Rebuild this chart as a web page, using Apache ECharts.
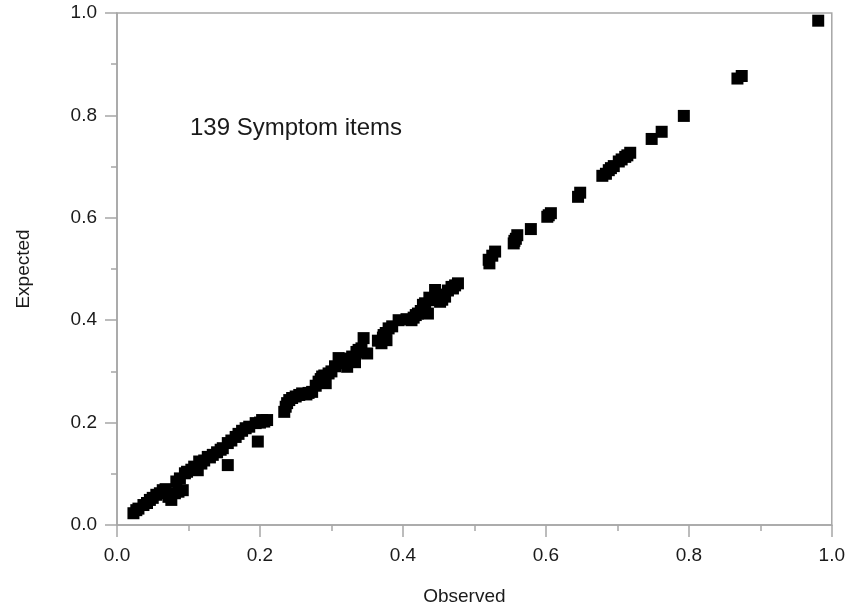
<!DOCTYPE html>
<html>
<head>
<meta charset="utf-8">
<script src="https://cdn.jsdelivr.net/npm/echarts@6/dist/echarts.min.js"></script>
<style>html,body{margin:0;padding:0;background:#fff}#c{width:848px;height:611px}</style>
</head>
<body>
<div id="c"></div>
<script>
const observed = [0.981,0.868,0.874,0.793,0.762,0.748,0.718,0.711,0.702,0.695,0.688,0.679,0.684,0.645,0.648,0.607,0.602,0.579,0.560,0.558,0.555,0.529,0.520,0.521,0.477,0.470,0.468,0.459,0.445,0.452,0.440,0.431,0.431,0.435,0.421,0.412,0.415,0.394,0.380,0.373,0.377,0.370,0.376,0.345,0.350,0.338,0.329,0.319,0.310,0.322,0.333,0.296,0.287,0.292,0.282,0.300,0.273,0.259,0.265,0.250,0.241,0.236,0.234,0.245,0.206,0.203,0.194,0.197,0.180,0.166,0.155,0.155,0.148,0.134,0.127,0.115,0.108,0.113,0.095,0.088,0.083,0.092,0.081,0.076,0.064,0.055,0.046,0.037,0.027,0.023,0.030,0.042,0.050,0.060,0.068,0.072,0.086,0.098,0.104,0.118,0.122,0.130,0.140,0.145,0.160,0.170,0.175,0.185,0.200,0.210,0.238,0.255,0.268,0.278,0.285,0.290,0.305,0.315,0.325,0.335,0.342,0.365,0.372,0.385,0.405,0.418,0.425,0.428,0.437,0.448,0.455,0.463,0.473,0.525,0.556,0.604,0.691,0.706,0.714];
const expected = [0.985,0.872,0.877,0.799,0.768,0.754,0.727,0.719,0.710,0.701,0.693,0.682,0.686,0.641,0.649,0.609,0.602,0.578,0.566,0.559,0.550,0.534,0.518,0.511,0.472,0.462,0.465,0.446,0.459,0.436,0.439,0.426,0.433,0.413,0.413,0.400,0.405,0.400,0.384,0.371,0.361,0.355,0.375,0.365,0.335,0.342,0.329,0.322,0.326,0.309,0.318,0.296,0.290,0.277,0.280,0.300,0.260,0.257,0.255,0.251,0.244,0.231,0.221,0.248,0.202,0.205,0.199,0.163,0.189,0.172,0.160,0.117,0.150,0.137,0.133,0.124,0.114,0.107,0.101,0.091,0.085,0.068,0.062,0.049,0.068,0.059,0.049,0.039,0.029,0.023,0.032,0.043,0.053,0.062,0.070,0.055,0.065,0.104,0.108,0.120,0.126,0.132,0.142,0.147,0.165,0.178,0.184,0.192,0.200,0.205,0.238,0.254,0.258,0.272,0.285,0.292,0.310,0.316,0.325,0.338,0.345,0.360,0.366,0.388,0.402,0.410,0.418,0.430,0.444,0.450,0.440,0.458,0.468,0.526,0.555,0.605,0.697,0.714,0.722];
const xName = 'Observed';
const yName = 'Expected';
const noteText = '139 Symptom items';

const pts = observed.map((v, i) => [v, expected[i]]);
const font = 'Liberation Sans, Arial, sans-serif';
const axisGray = '#a6a6a6';
const chart = echarts.init(document.getElementById('c'), null, {renderer: 'canvas'});
const axisCommon = {
  min: 0, max: 1, interval: 0.2,
  axisLine: {show: true, lineStyle: {color: axisGray, width: 1.5}},
  axisTick: {show: true, inside: false, length: 12, lineStyle: {color: axisGray, width: 1.5}},
  minorTick: {show: true, splitNumber: 2, length: 6, lineStyle: {color: axisGray, width: 1.5}},
  splitLine: {show: false},
  axisLabel: {color: '#1a1a1a', fontSize: 19, fontFamily: font, formatter: v => v.toFixed(1)},
  nameLocation: 'middle',
  nameTextStyle: {color: '#1a1a1a', fontSize: 19, fontFamily: font}
};
chart.setOption({
  animation: false,
  backgroundColor: '#fff',
  grid: {left: 117, right: 12, top: 13, bottom: 86, show: true, borderColor: axisGray, borderWidth: 1.5},
  xAxis: Object.assign({}, axisCommon, {type: 'value', name: xName, nameGap: 62,
    nameTextStyle: Object.assign({}, axisCommon.nameTextStyle, {padding: [0, 20, 0, 0]}),
    axisLabel: Object.assign({}, axisCommon.axisLabel, {margin: 21})}),
  yAxis: Object.assign({}, axisCommon, {type: 'value', name: yName, nameGap: 84,
    axisLabel: Object.assign({}, axisCommon.axisLabel, {margin: 20})}),
  graphic: [{type: 'text', left: 190, top: 116,
    style: {text: noteText, fontSize: 24, fontFamily: font, fill: '#1a1a1a'}}],
  series: [{type: 'scatter', data: pts, symbol: 'rect', symbolSize: 12,
    itemStyle: {color: '#000', opacity: 1}}]
});
</script>
</body>
</html>
